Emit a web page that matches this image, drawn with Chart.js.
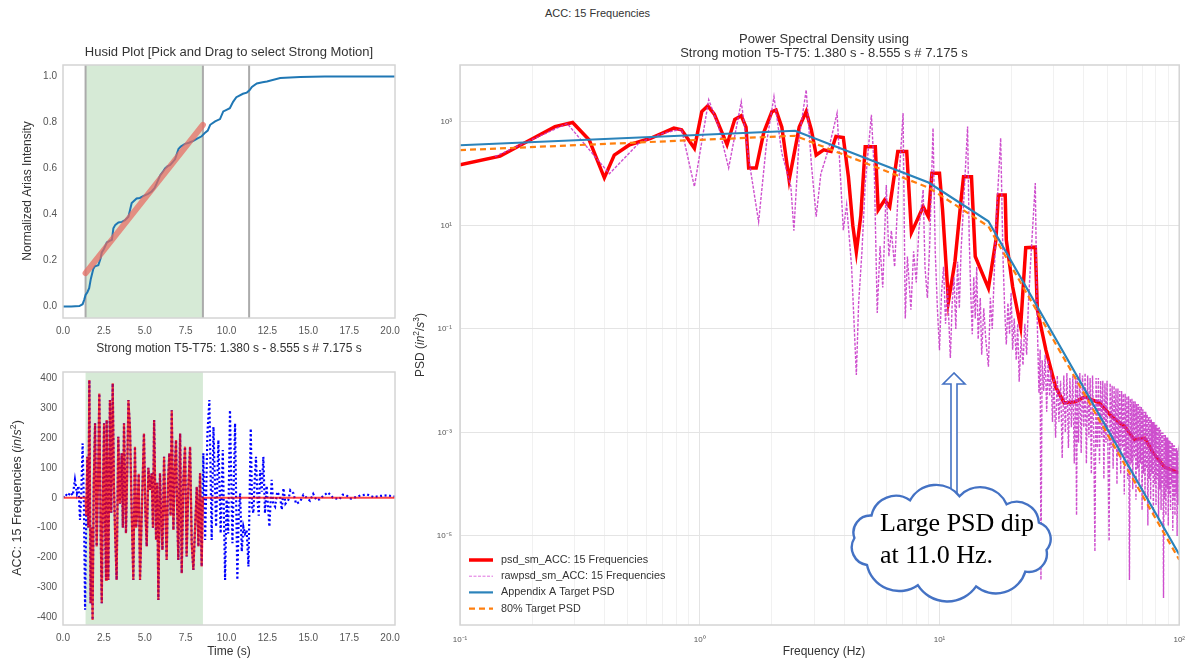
<!DOCTYPE html>
<html>
<head>
<meta charset="utf-8">
<script src="https://cdn.jsdelivr.net/npm/chart.js@4.4.0/dist/chart.umd.min.js"></script>
<style>
  html, body { margin: 0; padding: 0; background: #fff; }
  #page { position: relative; width: 1195px; height: 664px; overflow: hidden; font-family: "Liberation Sans", Arial, sans-serif; }
  canvas { position: absolute; }
  #husid { left: 0; top: 30px; }
  #acc { left: 0; top: 360px; }
  #psd { left: 410px; top: 20px; }
  #sup { position: absolute; left: 0; top: 7px; width: 1195px; text-align: center; font-size: 11px; color: #333; }
  #callout { position: absolute; left: 0; top: 0; pointer-events: none; }
</style>
</head>
<body>
<div id="page">
  <div id="sup">ACC: 15 Frequencies</div>
  <canvas id="husid" width="410" height="330"></canvas>
  <canvas id="acc" width="410" height="304"></canvas>
  <canvas id="psd" width="785" height="644"></canvas>
  <svg id="callout" width="1195" height="664"></svg>
</div>
<script>
// ---- Husid plot ----
const husidT = [0, 0.5, 1.0, 1.2, 1.3, 1.38, 1.49, 1.6, 1.7, 1.85, 1.95, 2.16, 2.3, 2.37, 2.5, 2.68, 2.85, 2.99, 3.08, 3.2,
  3.39, 3.6, 3.79, 4.0, 4.1, 4.2, 4.35, 4.5, 4.7, 4.9, 5.2, 5.42, 5.6, 5.73, 5.94, 6.1, 6.24, 6.4, 6.55, 6.85,
  7.06, 7.2, 7.46, 7.7, 7.97, 8.2, 8.48, 8.69, 8.85, 9.0, 9.3, 9.6, 9.8, 10.0, 10.2, 10.4, 10.6, 10.73, 11.0, 11.24,
  11.4, 11.55, 11.85, 12.2, 12.47, 13.28, 14.5, 16, 18, 20.3];
const husidI = [0, 0, 0.002, 0.01, 0.03, 0.05, 0.062, 0.08, 0.12, 0.163, 0.175, 0.18, 0.21, 0.235, 0.25, 0.278, 0.285, 0.29, 0.34, 0.355,
  0.365, 0.368, 0.375, 0.39, 0.42, 0.45, 0.46, 0.47, 0.472, 0.48, 0.49, 0.5, 0.515, 0.535, 0.57, 0.585, 0.6, 0.61, 0.615, 0.64,
  0.685, 0.695, 0.707, 0.712, 0.72, 0.73, 0.74, 0.756, 0.765, 0.79, 0.805, 0.815, 0.848, 0.855, 0.862, 0.89, 0.91, 0.915, 0.925, 0.93,
  0.94, 0.955, 0.97, 0.975, 0.978, 0.993, 0.998, 1.0, 1.0, 1.0];
const fitT = [1.38, 8.555];
const fitI = [0.145, 0.79];
const strongWindow = [1.380, 8.555];
const t95Line = 11.38;
const husidXTicks = [0, 2.5, 5, 7.5, 10, 12.5, 15, 17.5, 20];
const husidYTicks = [0, 0.2, 0.4, 0.6, 0.8, 1.0];

// ---- acceleration time history ----
const accT = [0, 0.15, 0.3, 0.45, 0.6, 0.73, 0.85, 0.95, 1.04, 1.12, 1.2, 1.28, 1.35, 1.42, 1.49, 1.55, 1.61, 1.69, 1.74, 1.81,
  1.88, 1.96, 2.06, 2.14, 2.22, 2.3, 2.37, 2.44, 2.51, 2.57, 2.63, 2.67, 2.72, 2.77, 2.87, 2.95, 3.04, 3.11, 3.18, 3.28,
  3.38, 3.48, 3.59, 3.66, 3.73, 3.85, 3.93, 4.0, 4.1, 4.2, 4.3, 4.4, 4.47, 4.55, 4.63, 4.71, 4.87, 4.95, 5.04, 5.12,
  5.22, 5.32, 5.42, 5.5, 5.57, 5.69, 5.76, 5.83, 5.93, 6.0, 6.08, 6.18, 6.26, 6.34, 6.42, 6.5, 6.58, 6.65, 6.75, 6.83,
  6.91, 6.98, 7.05, 7.16, 7.26, 7.36, 7.46, 7.56, 7.66, 7.77, 7.87, 7.97, 8.07, 8.18, 8.28, 8.38, 8.48, 8.58, 8.69, 8.83,
  8.95, 9.09, 9.2, 9.36, 9.5, 9.64, 9.77, 9.91, 10.0, 10.1, 10.21, 10.36, 10.52, 10.66, 10.75, 10.83, 10.93, 11.03, 11.13, 11.23,
  11.34, 11.48, 11.56, 11.64, 11.72, 11.8, 11.89, 11.97, 12.05, 12.15, 12.25, 12.35, 12.45, 12.55, 12.62, 12.76, 12.85, 12.97, 13.1, 13.27,
  13.38, 13.48, 13.6, 13.78, 13.9, 14.09, 14.25, 14.5, 14.7, 14.9, 15.1, 15.3, 15.5, 15.7, 15.95, 16.2, 16.5, 16.9, 17.1, 17.3,
  17.6, 17.9, 18.2, 18.6, 19.0, 19.4, 19.8, 20.3];
const accV = [0, 12, 5, 18, 8, 60, 15, 40, -74, 20, 182, -30, -375, -60, 137, -100, 394, -353, -100, -409,
  50, 249, -163, 50, 349, -100, -353, 0, 249, -80, -275, 260, 20, -275, 327, -50, 383, 50, -108, -275,
  204, -20, 149, -100, 249, -119, 100, 327, 227, -50, -275, 171, -100, -41, 80, -275, 60, 215, -50, -163,
  100, 26, 82, -100, 260, -141, 50, -342, 82, -60, -175, 137, -50, -208, 50, 149, -60, 293, -108, 80,
  193, -40, -208, 215, -253, 60, 171, -197, 30, 171, -152, -242, -108, 37, -163, 82, -230, 149, -141, 215,
  327, -141, 237, -97, 193, -119, 160, -275, -7, -120, 293, -152, 249, -275, -50, 15, -180, -97, -120, -108,
  -230, 232, -30, -52, 60, 137, -7, -60, 93, 20, 137, -52, 40, -40, -97, 60, -20, -30, 20, 4,
  -40, 32, -20, -7, 25, 15, -20, -13, 10, 0, -10, 13, -8, -5, 8, 18, 0, -5, 10, 9,
  -3, 2, 8, 11, 2, 6, 8, 4];
const accYTicks = [-400, -300, -200, -100, 0, 100, 200, 300, 400];

// ---- power spectral density (values read as log10 of PSD off the log axis) ----
const psdSmF = [0.1, 0.147, 0.196, 0.249, 0.295, 0.346, 0.40, 0.44, 0.51, 0.62, 0.78, 0.84, 0.95, 1.02, 1.08, 1.15, 1.30, 1.40, 1.49, 1.56,
  1.60, 1.72, 1.85, 2.0, 2.08, 2.2, 2.36, 2.6, 2.78, 2.92, 3.06, 3.29, 3.53, 3.70, 3.97, 4.17, 4.35, 4.5, 4.7, 4.9,
  5.4, 5.55, 5.9, 6.2, 6.7, 7.3, 7.64, 8.55, 8.98, 9.3, 10.0, 10.3, 10.9, 11.6, 12.3, 12.6, 13.6, 14.1, 16.0, 17.2,
  17.6, 18.8, 19.0, 20.2, 21.8, 22.9, 25.1, 25.6, 27.8, 30.5, 33.1, 36.8, 40.5, 46.4, 52.5, 59.4, 65.0, 71.8, 78.0, 86.9, 100];
const psdSmLog = [2.17, 2.34, 2.65, 2.91, 2.99, 2.65, 1.92, 2.36, 2.56, 2.68, 2.88, 2.85, 2.49, 3.20, 3.31, 3.15, 2.56, 3.05, 3.12, 2.90,
  2.11, 2.11, 2.80, 3.20, 3.23, 2.90, 1.88, 2.90, 3.20, 2.85, 2.36, 2.46, 2.43, 2.72, 2.70, 1.94, 1.0, 0.49, 1.2, 2.52,
  2.52, 1.30, 1.49, 1.36, 2.43, 2.43, 0.86, 1.36, 1.17, 2.01, 2.01, 1.3, -0.47, 0.3, 1.49, 1.94, 1.94, 0.40, -0.21, 0.72,
  1.59, 1.59, 0.72, -0.19, -0.96, 0.57, 0.58, -0.63, -1.41, -2.12, -2.43, -2.41, -2.31, -2.43, -2.70, -2.89, -3.14, -3.11, -3.40, -3.67, -3.78];

const rawF = [0.14, 0.28, 0.42, 0.56, 0.70, 0.84, 0.95, 1.09, 1.2, 1.32, 1.49, 1.6, 1.76, 1.9, 2.04, 2.2, 2.4, 2.47, 2.6, 2.78,
  2.92, 3.06, 3.2, 3.34, 3.5, 3.74, 3.97, 4.1, 4.3, 4.5, 4.6, 4.75, 4.9, 5.2, 5.35, 5.5, 5.65, 5.8, 6.0, 6.15,
  6.3, 6.5, 6.7, 7.05, 7.2, 7.35, 7.6, 7.8, 8.0, 8.2, 8.55, 8.7, 8.9, 9.1, 9.4, 9.6, 9.8, 10.0, 10.2, 10.4,
  10.6, 10.8, 11.1, 11.3, 11.5, 11.7, 11.9, 12.1, 12.3, 12.6, 13.1, 13.3, 13.5, 13.7, 13.9, 14.1, 14.3, 14.5, 14.8, 15.0,
  15.3, 15.6, 16.0, 16.3, 16.6, 16.9, 17.2, 18.0, 18.4, 18.7, 19.0, 19.3, 19.6, 19.9, 20.2, 20.5, 20.9, 21.2, 21.5, 21.9,
  22.3, 22.7, 23.1, 23.5, 24.0, 25.1, 25.5, 26.0, 26.3, 26.5, 26.8, 27.2, 27.6, 28.0, 28.4, 28.8, 29.2, 29.6,
  30.0, 30.5, 31.0, 31.5, 32.0, 32.5, 33.0, 33.5, 34.0, 34.5, 35.0, 35.5, 36.0, 36.5, 37.0, 37.3, 37.6, 38.0, 38.5, 39.0,
  39.5, 40.0, 40.5, 41.0, 41.5, 42.0, 42.5, 43.0, 43.5, 44.0, 44.5, 45.0, 45.5, 46.0, 46.5, 47.0, 47.5, 48.0, 48.5, 49.0,
  49.5, 50.0, 50.5, 51.0, 51.5, 52.0, 52.5, 53.0, 53.5, 54.0, 54.5, 55.0, 55.5, 56.0, 56.5, 57.0, 57.5, 58.0, 58.5, 59.0,
  59.5, 60.0, 60.5, 61.0, 61.5, 62.0, 62.5, 63.0, 63.5, 64.0, 64.5, 65.0, 65.5, 66.0, 66.5, 67.0, 67.5, 68.0, 68.5, 69.0,
  69.5, 70.0, 70.5, 71.0, 71.5, 72.0, 72.5, 73.0, 73.5, 74.0, 74.5, 75.0, 75.5, 76.0, 76.5, 77.0, 77.5, 78.0, 78.5, 79.0,
  79.5, 80.0, 80.5, 81.0, 81.5, 82.0, 82.5, 83.0, 83.5, 84.0, 84.5, 85.0, 85.5, 86.0, 86.5, 87.0, 87.5, 88.0, 88.5, 89.0,
  89.5, 90.0, 90.5, 91.0, 91.5, 92.0, 92.5, 93.0, 93.5, 94.0, 94.5, 95.0, 95.5, 96.0, 96.5, 97.0, 97.5, 98.0, 98.5, 99.0,
  99.5, 100.0];
const rawLog = [2.33, 2.97, 2.0, 2.6, 2.78, 2.86, 1.75, 3.43, 2.9, 2.11, 3.39, 2.3, 1.07, 2.6, 3.49, 2.4, 1.75, 0.9, 2.7, 3.62,
  2.2, 1.17, 2.0, 2.27, 2.6, 3.17, 0.91, 1.4, 0.2, -1.89, -0.5, 0.5, 1.8, 3.14, 2.0, -0.69, 0.6, -0.2, 1.78, 0.4,
  0.9, 0.2, 1.5, 3.17, -0.8, 0.4, -0.63, 0.5, -0.1, 0.9, 1.69, 0.2, -0.4, 0.6, 2.88, 0.5, -0.6, -1.41, -0.3, 0.2,
  -0.9, -0.2, -1.56, -0.5, 0.0, -1.0, 0.3, -0.6, 0.5, 1.4, 2.91, 0.8, -0.3, -1.1, 0.0, -0.8, 0.2, -1.2, -0.4, -1.5,
  -0.6, -1.2, -1.73, -0.4, -1.0, 0.0, 1.0, 2.69, 0.4, -0.6, -1.3, -0.5, -1.1, -0.3, -1.4, -0.8, -1.6, -0.9, -2.02, -1.2,
  -1.7, -0.9, -1.5, -0.5, 0.3, 1.82, -0.6, -2.24, -1.4, -5.85, -1.6, -2.2, -1.5, -2.6, -1.6, -2.3, -1.8, -2.8,
  -1.95, -3.1, -1.9, -2.8, -2.0, -3.5, -1.9, -3.0, -1.85, -3.3, -1.95, -2.9, -1.9, -3.6, -1.9, -4.6, -1.95, -3.2, -1.85, -3.4,
  -1.9, -2.9, -1.85, -3.6, -1.9, -3.1, -1.95, -3.8, -1.9, -3.0, -5.3, -1.95, -3.3, -1.95, -3.6, -2.0, -3.1, -2.0, -3.9, -2.05,
  -3.2, -2.0, -3.5, -5.1, -2.05, -3.3, -2.1, -3.7, -2.1, -3.2, -2.15, -4.0, -2.15, -3.4, -2.2, -3.8, -2.2, -3.3, -2.25, -4.2,
  -2.25, -3.5, -2.3, -3.9, -2.3, -5.85, -2.35, -3.6, -2.35, -4.1, -2.4, -3.5, -2.4, -4.3, -2.45, -3.7, -2.45, -4.0, -2.5, -3.6,
  -2.5, -4.5, -2.55, -3.8, -2.6, -4.2, -2.6, -3.7, -2.65, -4.8, -2.7, -3.9, -2.7, -4.3, -2.75, -3.8, -2.8, -4.6, -2.8, -4.0,
  -2.85, -4.4, -2.85, -3.9, -2.9, -4.7, -2.9, -4.1, -2.95, -4.5, -3.0, -4.0, -3.0, -6.2, -3.05, -4.3, -3.05, -4.6, -3.1, -4.1,
  -3.1, -4.8, -3.15, -4.2, -3.15, -4.5, -3.2, -4.0, -3.2, -4.9, -3.25, -4.3, -3.25, -4.6, -3.3, -4.2, -3.3, -5.0, -3.35, -4.4,
  -3.35, -3.4];

const targetF = [0.1, 2.5, 9, 16, 100];
const targetLog = [2.55, 2.83, 1.83, 1.08, -5.36];
const target80Log = [2.455, 2.733, 1.731, 0.982, -5.46];

const psdXTicks = [0.1, 0.2, 0.3, 0.4, 0.5, 0.6, 0.7, 0.8, 0.9, 1, 2, 3, 4, 5, 6, 7, 8, 9, 10, 20, 30, 40, 50, 60, 70, 80, 90, 100];
const psdYTicks = [1e-5, 1e-3, 1e-1, 1e1, 1e3];
const supDigits = { '-': '⁻', '0': '⁰', '1': '¹', '2': '²', '3': '³', '4': '⁴', '5': '⁵' };

const FONT = '"Liberation Sans", Arial, sans-serif';
const TICK_COLOR = '#555';

const pts = (xs, ys) => xs.map((x, i) => ({ x, y: ys[i] }));
const logPts = (xs, logs) => xs.map((x, i) => ({ x, y: Math.pow(10, logs[i]) }));
const isDecade = (v) => Math.abs(Math.log10(v) - Math.round(Math.log10(v))) < 1e-9;
const pow10Label = (v) => '10' + String(Math.round(Math.log10(v))).split('').map((c) => supDigits[c]).join('');

function drawParts(ctx, t) {
  const size = t.size || 11;
  ctx.save();
  ctx.translate(t.x, t.y);
  ctx.rotate(t.rot || 0);
  ctx.fillStyle = t.color || '#333';
  ctx.textBaseline = 'middle';
  ctx.textAlign = 'left';
  const fontFor = (p) => `${p.it ? 'italic ' : ''}${p.sup ? size * 0.7 : size}px ${FONT}`;
  let w = 0;
  t.parts.forEach((p) => { ctx.font = fontFor(p); w += ctx.measureText(p.s).width; });
  let cx = -w / 2;
  t.parts.forEach((p) => {
    ctx.font = fontFor(p);
    ctx.fillText(p.s, cx, p.sup ? -size * 0.35 : 0);
    cx += ctx.measureText(p.s).width;
  });
  ctx.restore();
}

function drawLegend(chart, L) {
  const ctx = chart.ctx;
  chart.data.datasets.forEach((d, i) => {
    const y = L.y + i * L.dy;
    ctx.save();
    ctx.strokeStyle = d.legendColor || d.borderColor;
    ctx.lineWidth = d.legendWidth || d.borderWidth;
    ctx.setLineDash(d.borderDash || []);
    ctx.beginPath();
    ctx.moveTo(L.x, y);
    ctx.lineTo(L.x + 24, y);
    ctx.stroke();
    ctx.restore();
    ctx.save();
    ctx.fillStyle = '#333';
    ctx.font = `10.8px ${FONT}`;
    ctx.textBaseline = 'middle';
    ctx.fillText(d.label, L.x + 32, y);
    ctx.restore();
  });
}

const decor = {
  id: 'decor',
  beforeDatasetsDraw(chart, args, o) {
    const { ctx, chartArea: a, scales } = chart;
    ctx.save();
    if (o.span) {
      const x0 = scales.x.getPixelForValue(o.span[0]);
      const x1 = scales.x.getPixelForValue(o.span[1]);
      ctx.fillStyle = '#d6ead6';
      ctx.fillRect(x0, a.top, x1 - x0, a.bottom - a.top);
    }
    (o.vlines || []).forEach((v) => {
      const x = scales.x.getPixelForValue(v);
      ctx.strokeStyle = '#ababab';
      ctx.lineWidth = 2;
      ctx.beginPath();
      ctx.moveTo(x, a.top);
      ctx.lineTo(x, a.bottom);
      ctx.stroke();
    });
    ctx.restore();
  },
  afterDraw(chart, args, o) {
    const { ctx, chartArea: a } = chart;
    ctx.save();
    ctx.strokeStyle = '#d4d4d4';
    ctx.lineWidth = 1.5;
    ctx.strokeRect(a.left, a.top, a.right - a.left, a.bottom - a.top);
    ctx.restore();
    (o.texts || []).forEach((t) => drawParts(ctx, t));
    if (o.legend) drawLegend(chart, o.legend);
  },
};

function linAxis(min, max, tickVals, fmt, fit, pad) {
  return {
    type: 'linear', min, max,
    afterFit: fit,
    afterBuildTicks: (s) => { s.ticks = tickVals.map((v) => ({ value: v })); },
    ticks: { callback: fmt, color: TICK_COLOR, font: { family: FONT, size: 10 }, padding: pad, autoSkip: false, maxRotation: 0 },
    grid: { display: false, drawTicks: false },
    border: { display: false },
  };
}

const baseOpts = { responsive: false, animation: false, events: [] };

// Husid chart
new Chart(document.getElementById('husid'), {
  type: 'line',
  data: {
    datasets: [
      { data: pts(fitT, fitI), borderColor: 'rgba(232,105,95,0.72)', borderWidth: 6, borderCapStyle: 'round', pointRadius: 0, order: 1 },
      { data: pts(husidT, husidI), borderColor: '#1f77b4', borderWidth: 2, pointRadius: 0, order: 2 },
    ],
  },
  options: {
    ...baseOpts,
    layout: { padding: { left: 0, right: 15, top: 35, bottom: 18 } },
    plugins: {
      legend: { display: false }, tooltip: { enabled: false },
      decor: {
        span: strongWindow,
        vlines: [strongWindow[0], strongWindow[1], t95Line],
        texts: [
          { parts: [{ s: 'Husid Plot [Pick and Drag to select Strong Motion]' }], x: 229, y: 22, size: 13 },
          { parts: [{ s: 'Strong motion T5-T75: 1.380 s - 8.555 s # 7.175 s' }], x: 229, y: 319, size: 12 },
          { parts: [{ s: 'Normalized Arias Intensity' }], x: 28, y: 161, size: 12, rot: -Math.PI / 2 },
        ],
      },
    },
    scales: {
      x: linAxis(0, 20.3, husidXTicks, (v) => Number(v).toFixed(1), (s) => { s.height = 24; }, 7),
      y: linAxis(-0.05, 1.05, husidYTicks, (v) => Number(v).toFixed(1), (s) => { s.width = 63; }, 6),
    },
  },
  plugins: [decor],
});

// acceleration chart (strong motion part drawn from the same record)
const strongPts = [{ x: 0, y: 0 }, { x: strongWindow[0], y: 0 }]
  .concat(pts(accT, accV).filter((p) => p.x > strongWindow[0] && p.x < strongWindow[1]))
  .concat([{ x: strongWindow[1], y: 0 }, { x: 20.3, y: 0 }]);

new Chart(document.getElementById('acc'), {
  type: 'line',
  data: {
    datasets: [
      { data: strongPts, borderColor: 'rgba(255,0,0,0.72)', borderWidth: 2.2, pointRadius: 0, order: 1 },
      { data: pts(accT, accV), borderColor: '#0000ff', borderWidth: 2.2, borderDash: [2, 2.5], pointRadius: 0, order: 2 },
    ],
  },
  options: {
    ...baseOpts,
    layout: { padding: { left: 0, right: 15, top: 12, bottom: 15 } },
    plugins: {
      legend: { display: false }, tooltip: { enabled: false },
      decor: {
        span: strongWindow,
        texts: [
          { parts: [{ s: 'Time (s)' }], x: 229, y: 292, size: 12 },
          { parts: [{ s: 'ACC: 15 Frequencies (' }, { s: 'in', it: true }, { s: '/' }, { s: 's', it: true }, { s: '2', sup: true }, { s: ')' }],
            x: 18, y: 138, size: 12.5, rot: -Math.PI / 2 },
        ],
      },
    },
    scales: {
      x: linAxis(0, 20.3, husidXTicks, (v) => Number(v).toFixed(1), (s) => { s.height = 24; }, 7),
      y: linAxis(-426, 421, accYTicks, (v) => String(v), (s) => { s.width = 63; }, 6),
    },
  },
  plugins: [decor],
});

// PSD chart
new Chart(document.getElementById('psd'), {
  type: 'line',
  data: {
    datasets: [
      { label: 'psd_sm_ACC: 15 Frequencies', data: logPts(psdSmF, psdSmLog), borderColor: '#ff0000', borderWidth: 3.5, pointRadius: 0, order: 4 },
      { label: 'rawpsd_sm_ACC: 15 Frequencies', data: logPts(rawF, rawLog), borderColor: 'rgba(198,48,198,0.85)', legendColor: '#e070e0',
        legendWidth: 1, borderWidth: 1.4, borderDash: [3, 1.5], pointRadius: 0, order: 3 },
      { label: 'Appendix A Target PSD', data: logPts(targetF, targetLog), borderColor: '#2b83ba', borderWidth: 2.2, pointRadius: 0, order: 2 },
      { label: '80% Target PSD', data: logPts(targetF, target80Log), borderColor: '#ff7f0e', borderWidth: 2.2, borderDash: [6, 4], pointRadius: 0, order: 1 },
    ],
  },
  options: {
    ...baseOpts,
    layout: { padding: { left: 0, right: 7, top: 45, bottom: 19 } },
    plugins: {
      legend: { display: false }, tooltip: { enabled: false },
      decor: {
        texts: [
          { parts: [{ s: 'Power Spectral Density using' }], x: 414, y: 19, size: 13 },
          { parts: [{ s: 'Strong motion T5-T75: 1.380 s - 8.555 s # 7.175 s' }], x: 414, y: 33, size: 13 },
          { parts: [{ s: 'Frequency (Hz)' }], x: 414, y: 632, size: 12 },
          { parts: [{ s: 'PSD (' }, { s: 'in', it: true }, { s: '2', sup: true }, { s: '/' }, { s: 's', it: true }, { s: '3', sup: true }, { s: ')' }],
            x: 11, y: 325, size: 12, rot: -Math.PI / 2 },
        ],
        legend: { x: 59, y: 540, dy: 16.2 },
      },
    },
    scales: {
      x: {
        type: 'logarithmic', min: 0.1, max: 100,
        afterFit: (s) => { s.height = 20; },
        afterBuildTicks: (s) => { s.ticks = psdXTicks.map((v) => ({ value: v })); },
        ticks: { callback: (v) => (isDecade(v) ? pow10Label(v) : ''), color: TICK_COLOR, font: { family: FONT, size: 8 }, padding: 10, autoSkip: false, maxRotation: 0 },
        grid: { color: (c) => (c.tick && isDecade(c.tick.value) ? '#e4e4e4' : '#f1f1f1'), drawTicks: false, lineWidth: 1 },
        border: { display: false },
      },
      y: {
        type: 'logarithmic', min: 1.9e-7, max: 1.26e4,
        afterFit: (s) => { s.width = 50; },
        afterBuildTicks: (s) => { s.ticks = psdYTicks.map((v) => ({ value: v })); },
        ticks: { callback: (v) => pow10Label(v), color: TICK_COLOR, font: { family: FONT, size: 8 }, padding: 8, autoSkip: false },
        grid: { color: '#e4e4e4', drawTicks: false, lineWidth: 1 },
        border: { display: false },
      },
    },
  },
  plugins: [decor],
});

// callout: cloud with arrow pointing at the dip
(function drawCallout() {
  const svg = document.getElementById('callout');
  const ns = 'http://www.w3.org/2000/svg';
  const arrow = document.createElementNS(ns, 'polygon');
  arrow.setAttribute('points', '954,373 943,384 951,384 951,495 957,495 957,384 965,384');
  arrow.setAttribute('fill', '#fff');
  arrow.setAttribute('stroke', '#4472c4');
  arrow.setAttribute('stroke-width', '1.6');
  svg.appendChild(arrow);

  const cx = 951, cy = 542, rx = 97, ry = 46;
  const angles = [150, 185, 215, 245, 275, 305, 335, 10, 40, 75, 110, 150];
  const pt = (a) => [cx + rx * Math.cos(a * Math.PI / 180), cy + ry * Math.sin(a * Math.PI / 180)];
  let d = '';
  angles.forEach((a, i) => {
    const [x, y] = pt(a);
    if (i === 0) { d += `M${x.toFixed(1)},${y.toFixed(1)} `; return; }
    const [px, py] = pt(angles[i - 1]);
    const r = Math.hypot(x - px, y - py) * 0.6;
    d += `A${r.toFixed(1)},${r.toFixed(1)} 0 0 1 ${x.toFixed(1)},${y.toFixed(1)} `;
  });
  const cloud = document.createElementNS(ns, 'path');
  cloud.setAttribute('d', d + 'Z');
  cloud.setAttribute('fill', '#fff');
  cloud.setAttribute('stroke', '#4472c4');
  cloud.setAttribute('stroke-width', '2.4');
  svg.appendChild(cloud);

  [['Large PSD dip', 531], ['at 11.0 Hz.', 563]].forEach(([s, y]) => {
    const t = document.createElementNS(ns, 'text');
    t.setAttribute('x', '880');
    t.setAttribute('y', String(y));
    t.setAttribute('font-family', '"Liberation Serif", "Times New Roman", serif');
    t.setAttribute('font-size', '26');
    t.setAttribute('fill', '#000');
    t.textContent = s;
    svg.appendChild(t);
  });
})();
</script>
</body>
</html>
